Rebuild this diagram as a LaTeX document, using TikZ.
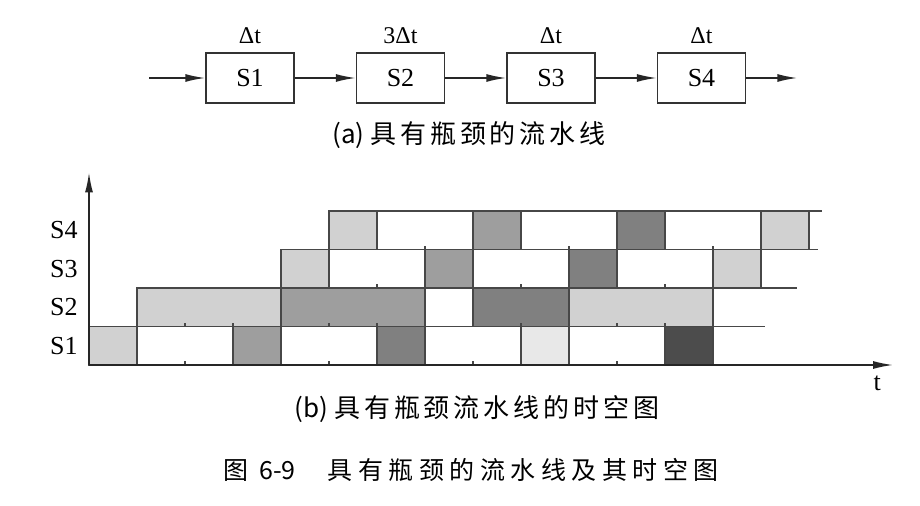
\documentclass[tikz,border=0pt]{standalone}
\usepackage{fontspec}
\setmainfont{Liberation Serif}
\newfontfamily\capfont[LetterSpace=15]{Noto Sans CJK SC}
\newfontfamily\figfont[LetterSpace=22]{Noto Sans CJK SC}
\newfontfamily\caplatin{Noto Sans CJK SC}
\usepackage{tikz}
\usetikzlibrary{positioning, arrows.meta}

\tikzset{
    stage/.style={draw=black!80, line width=0.75pt, minimum width=44pt, minimum height=25pt, inner sep=0pt, font=\fontsize{13}{15}\selectfont},
    delay/.style={inner sep=1pt, font=\fontsize{12}{14}\selectfont},
    flow/.style={draw=black!85, line width=0.75pt, -{Latex[length=10pt,width=4pt]}},
    cell/.style={draw=black!72, line width=0.75pt},
    blank/.style={cell, fill=white},
    lite/.style={cell, fill=black!18},
    pale/.style={cell, fill=black!9},
    mid/.style={cell, fill=black!38},
    dark/.style={cell, fill=black!50},
    ink/.style={cell, fill=black!70},
    tick/.style={draw=black!72, line width=0.75pt},
    rowlabel/.style={anchor=east, inner sep=0pt, font=\fontsize{13}{15}\selectfont},
    caption/.style={inner sep=0pt, font=\capfont\fontsize{13}{15}\selectfont}
}

\begin{document}
\begin{tikzpicture}[x=0.5pt, y=-0.5pt]
    \useasboundingbox (0,0) rectangle (920,506);

    \node[stage]                     (s1) at (250,78) {S1};
    \node[stage, right=30.5pt of s1] (s2) {S2};
    \node[stage, right=30.5pt of s2] (s3) {S3};
    \node[stage, right=30.5pt of s3] (s4) {S4};
    \node[delay, above=3pt of s1] (d1) {Δt};
    \node[delay, above=3pt of s2] (d2) {3Δt};
    \node[delay, above=3pt of s3] (d3) {Δt};
    \node[delay, above=3pt of s4] (d4) {Δt};
    \coordinate[left=28pt of s1]    (in);
    \coordinate[right=25.5pt of s4] (out);
    \draw[flow] (in) -- (s1);
    \draw[flow] (s1) -- (s2);
    \draw[flow] (s2) -- (s3);
    \draw[flow] (s3) -- (s4);
    \draw[flow] (s4) -- (out);
    \node[caption] (capa) at (469,135) {{\caplatin(a) }具有瓶颈的流水线};

    \begin{scope}[shift={(89,365)}, x=24pt, y=19.25pt]
        \draw[lite]  (0,0) rectangle (1,1);
        \draw[blank] (1,0) rectangle (3,1);
        \draw[mid]   (3,0) rectangle (4,1);
        \draw[blank] (4,0) rectangle (6,1);
        \draw[dark]  (6,0) rectangle (7,1);
        \draw[blank] (7,0) rectangle (9,1);
        \draw[pale]  (9,0) rectangle (10,1);
        \draw[blank] (10,0) rectangle (12,1);
        \draw[ink]   (12,0) rectangle (13,1);

        \draw[lite]  (1,1) rectangle (4,2);
        \draw[mid]   (4,1) rectangle (7,2);
        \draw[blank] (7,1) rectangle (8,2);
        \draw[dark]  (8,1) rectangle (10,2);
        \draw[lite]  (10,1) rectangle (13,2);

        \draw[lite]  (4,2) rectangle (5,3);
        \draw[blank] (5,2) rectangle (7,3);
        \draw[mid]   (7,2) rectangle (8,3);
        \draw[blank] (8,2) rectangle (10,3);
        \draw[dark]  (10,2) rectangle (11,3);
        \draw[blank] (11,2) rectangle (13,3);
        \draw[lite]  (13,2) rectangle (14,3);

        \draw[lite]  (5,3) rectangle (6,4);
        \draw[blank] (6,3) rectangle (8,4);
        \draw[mid]   (8,3) rectangle (9,4);
        \draw[blank] (9,3) rectangle (11,4);
        \draw[dark]  (11,3) rectangle (12,4);
        \draw[blank] (12,3) rectangle (14,4);
        \draw[lite]  (14,3) rectangle (15,4);

        \draw[cell] (13,1) -- (14.08,1);
        \draw[cell] (14,2) -- (14.75,2);
        \draw[cell] (15,3) -- (15.19,3);
        \draw[cell] (15,4) -- (15.27,4);

        \foreach \x in {2,5,8,11} \draw[tick] (\x,0) -- ++(0,0.1);
        \foreach \x in {2,3,5,6,9,11,12} \draw[tick] (\x,1) -- ++(0,0.1);
        \foreach \x in {6,9,12} \draw[tick] (\x,2) -- ++(0,0.1);
        \foreach \x in {7,10,13} \draw[tick] (\x,3) -- ++(0,0.1);

        \coordinate (o) at (0,0);
        \coordinate (ytop) at (0,5);
        \coordinate (xend) at (16.75,0);
        \draw[flow] (o) -- (ytop);
        \draw[flow] (o) -- (xend);
        \node[rowlabel] (r1) at (-0.23,0.5) {S1};
        \node[rowlabel] (r2) at (-0.23,1.5) {S2};
        \node[rowlabel] (r3) at (-0.23,2.5) {S3};
        \node[rowlabel] (r4) at (-0.23,3.5) {S4};
        \node[rowlabel, anchor=center] (tlab) at (16.42,-0.47) {t};
    \end{scope}

    \node[caption] (capb) at (477,409) {{\caplatin(b) }具有瓶颈流水线的时空图};
    \node[caption, font=\figfont\fontsize{12.5}{15}\selectfont] (fig) at (471,470) {图 {\caplatin 6-9}\hspace{16pt}具有瓶颈的流水线及其时空图};
\end{tikzpicture}
\end{document}
